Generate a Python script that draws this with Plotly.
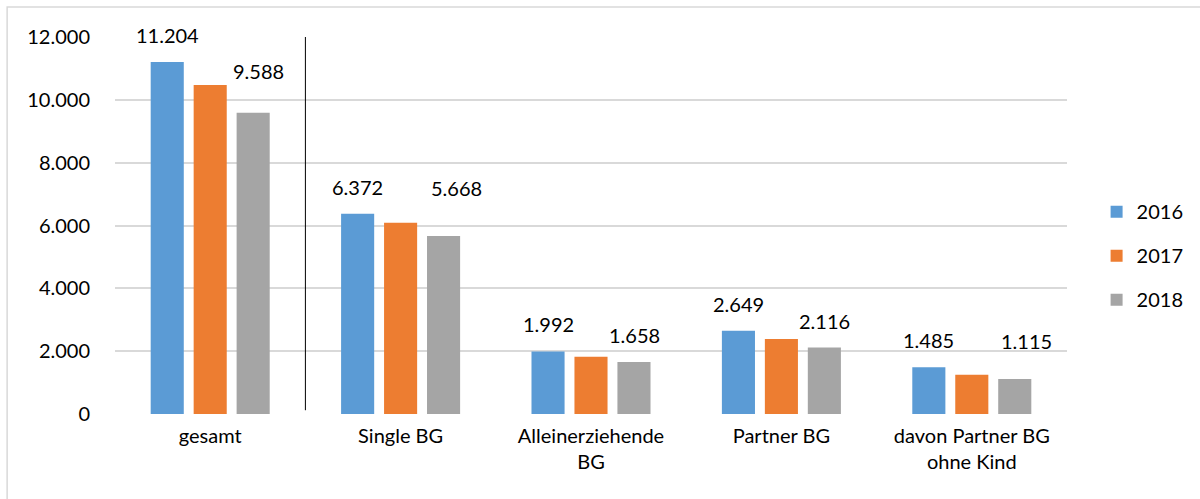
import plotly.graph_objects as go

# Data
categories = ["gesamt", "Single BG", "Alleinerziehende<br>BG", "Partner BG",
              "davon Partner BG<br>ohne Kind"]
years = ["2016", "2017", "2018"]
values_2016 = [11204, 6372, 1992, 2649, 1485]
values_2017 = [10470, 6085, 1825, 2390, 1250]
values_2018 = [9588, 5668, 1658, 2116, 1115]
labelled = {"2016": True, "2017": False, "2018": True}

colors = ["#5B9BD5", "#ED7D31", "#A5A5A5"]
font = "Lato"

# label placement (pixels): bar slot offset, plus manual nudges as in the source
slot_shift = {"2016": -43, "2018": 43}
nudge_x = {"2016": [0, 0, 0, 0, 0], "2018": [5, 13, 0, 0, 12]}
nudge_y = {"2016": [0, 0, 0, 0, 0], "2018": [15, 21, 0, 0, 11]}

def fmt(v):
    return f"{v:,}".replace(",", ".")

fig = go.Figure()
series = [values_2016, values_2017, values_2018]
for i, (yr, vals) in enumerate(zip(years, series)):
    fig.add_trace(go.Bar(
        x=categories, y=vals, name=yr,
        marker=dict(color=colors[i], line=dict(width=0)),
        legendgroup=yr,
    ))

# Data labels above 2016 and 2018 bars
for yr, vals in zip(years, series):
    if not labelled[yr]:
        continue
    for j, (cat, v) in enumerate(zip(categories, vals)):
        fig.add_annotation(x=cat, y=v, text=fmt(v), showarrow=False,
                           xshift=slot_shift[yr] + nudge_x[yr][j],
                           yshift=13 + nudge_y[yr][j], yanchor="bottom",
                           font=dict(family=font, size=20, color="#000000"))

# Separator between "gesamt" and the other groups
fig.add_shape(type="line", xref="x", yref="y", x0=0.5, x1=0.5, y0=120, y1=12050,
              line=dict(color="#000000", width=1))

# Outer chart frame
fig.add_shape(type="rect", xref="paper", yref="paper",
              x0=-0.1133, x1=1.2, y0=-0.3, y1=1.0796,
              line=dict(color="#D9D9D9", width=1.5), layer="below")

fig.update_layout(
    width=1200, height=499,
    margin=dict(l=115, r=132, t=37, b=85),
    paper_bgcolor="white", plot_bgcolor="white",
    barmode="group", bargap=0.323, bargroupgap=0.23,
    font=dict(family=font, size=20, color="#000000"),
    legend=dict(x=1.03, y=0.42, xanchor="left", yanchor="middle",
                font=dict(family=font, size=20), tracegroupgap=15,
                itemwidth=30),
    showlegend=True,
    separators=",.",
)
fig.update_yaxes(range=[0, 12000], dtick=2000, tickformat=",d",
                 gridcolor="#D9D9D9", gridwidth=1.5,
                 zeroline=False, showline=False, ticks="",
                 ticklabelstandoff=24)
fig.update_xaxes(showline=False, ticks="", ticklabelstandoff=8)

fig.write_html("out.html", config={"displayModeBar": False},
               post_script="document.body.style.margin='0';")
